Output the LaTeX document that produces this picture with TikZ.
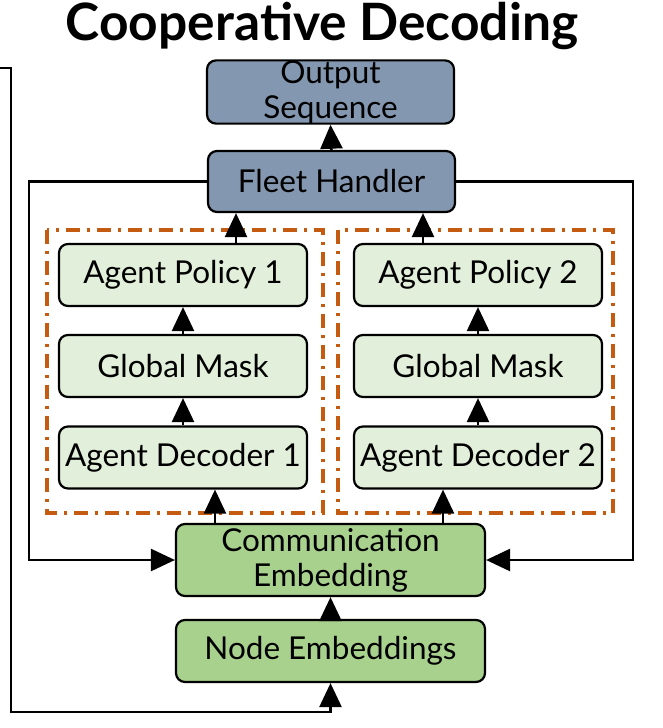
\documentclass[tikz,border=0pt]{standalone}
\usepackage{fontspec}
\setmainfont{Lato}
\usetikzlibrary{arrows.meta}
\definecolor{fleetblue}{HTML}{8497B0}
\definecolor{agentgreen}{HTML}{E2EFDA}
\definecolor{embgreen}{HTML}{A9D18E}
\definecolor{grouporange}{HTML}{C55A11}
\tikzset{
  block/.style={draw=black, line width=2.2pt, rounded corners=9pt, align=center,
    inner sep=0pt, font=\fontsize{31.5}{35}\selectfont},
  fleetbox/.style={block, fill=fleetblue, minimum width=247pt, minimum height=61pt},
  agentbox/.style={block, fill=agentgreen, minimum width=248pt, minimum height=62pt},
  embbox/.style={block, fill=embgreen, minimum width=309pt},
  groupbox/.style={draw=grouporange, line width=3.5pt,
    dash pattern=on 14pt off 7pt on 3pt off 7pt},
  arr/.style={line width=2.5pt, -{Triangle[length=24pt, width=22pt]}},
}
\begin{document}
\begin{tikzpicture}[x=1pt, y=-1pt]
    \useasboundingbox (0,0) rectangle (662,728);
    \node (title) at (322,26) {\fontsize{51.5}{60}\selectfont\bfseries Cooperative Decoding};

    % agent groups
    \draw[groupbox] (47,230) rectangle (323,513);
    \draw[groupbox] (338,230) rectangle (613,513);

    \node[fleetbox] (out) at (330.5,92) {Output\\Sequence};
    \node[fleetbox] (fleet) at (331.5,181.5) {Fleet Handler};

    \node[agentbox] (pol1) at (183,275) {Agent Policy 1};
    \node[agentbox] (mask1) at (183,366) {Global Mask};
    \node[agentbox] (dec1) at (183,457.5) {Agent Decoder 1};
    \node[agentbox] (pol2) at (478,275) {Agent Policy 2};
    \node[agentbox] (mask2) at (478,366) {Global Mask};
    \node[agentbox] (dec2) at (478,457.5) {Agent Decoder 2};

    \node[embbox, minimum height=72pt] (comm) at (330.5,560) {Communication\\Embedding};
    \node[embbox, minimum height=62pt] (nodeemb) at (330.5,651) {Node Embeddings};

    \coordinate (fbl) at (29,560);
    \coordinate (fbr) at (633,560);
    \coordinate (loopin) at (0,68);
    \coordinate (loopout) at (11,712);

    % connectors
    \draw[arr] (fleet.north) -- (out.south);
    \draw[arr] ([xshift=53pt]pol1.north) -- ([xshift=53pt]pol1.north |- fleet.south);
    \draw[arr] ([xshift=-55pt]pol2.north) -- ([xshift=-55pt]pol2.north |- fleet.south);
    \draw[arr] (mask1.north) -- (pol1.south);
    \draw[arr] (dec1.north) -- (mask1.south);
    \draw[arr] (mask2.north) -- (pol2.south);
    \draw[arr] (dec2.north) -- (mask2.south);
    \draw[arr] ([xshift=32pt]dec1.south |- comm.north) -- ([xshift=32pt]dec1.south);
    \draw[arr] ([xshift=-35pt]dec2.south |- comm.north) -- ([xshift=-35pt]dec2.south);
    \draw[arr] (nodeemb.north) -- (comm.south);
    \draw[arr] (fleet.west) -| (fbl) -- (comm.west);
    \draw[arr] (fleet.east) -| (fbr) -- (comm.east);
    \draw[arr] (loopin) -| (loopout) -| (nodeemb.south);
\end{tikzpicture}
\end{document}
